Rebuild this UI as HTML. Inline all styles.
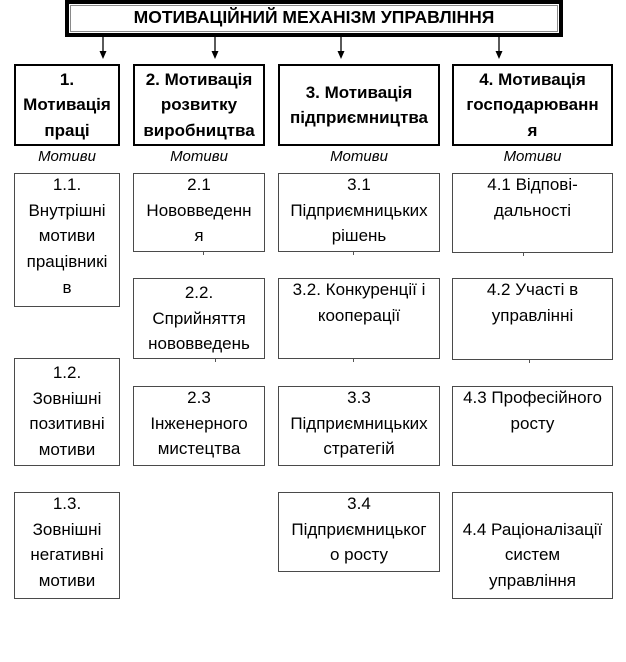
<!DOCTYPE html>
<html>
<head>
<meta charset="utf-8">
<style>
  html, body { margin:0; padding:0; background:#fff; }
  body { width:626px; height:662px; position:relative; overflow:hidden;
         font-family:"Liberation Sans", Arial, sans-serif; color:#000; }
  .title { position:absolute; left:65px; top:0; width:498px; height:37px; box-sizing:border-box;
           border:4px solid #000; background:#fff; }
  .title .inner { position:absolute; left:1px; top:1px; right:1px; bottom:1px; border:1px solid #8a8a8a; }
  .title .txt { position:absolute; left:0; right:0; top:0; line-height:27px; text-align:center;
                font-weight:bold; font-size:17.5px; white-space:nowrap; }
  .hb { position:absolute; top:64px; height:82px; box-sizing:border-box; border:2px solid #000;
        display:flex; align-items:center; justify-content:center; text-align:center;
        font-weight:bold; font-size:17px; line-height:25.5px; white-space:nowrap; }
  .mot { position:absolute; top:148px; font-style:italic; font-size:15px; line-height:18px;
         text-align:center; white-space:nowrap; }
  .sb { position:absolute; box-sizing:border-box; border:1px solid #4a4a4a; background:#fff;
        text-align:center; font-size:17px; line-height:25.7px; white-space:nowrap; }
  .sb .t { position:relative; top:-2px; }
  .tick { position:absolute; width:1px; height:3px; background:#555; }
  svg { position:absolute; left:0; top:0; }
</style>
</head>
<body>

<div class="title"><div class="inner"></div><div class="txt">МОТИВАЦІЙНИЙ МЕХАНІЗМ УПРАВЛІННЯ</div></div>

<svg width="626" height="662">
  <g stroke="#000" stroke-width="1.3">
    <line x1="103" y1="37" x2="103" y2="53"/>
    <line x1="215" y1="37" x2="215" y2="53"/>
    <line x1="341" y1="37" x2="341" y2="53"/>
    <line x1="499" y1="37" x2="499" y2="53"/>
  </g>
  <g fill="#000">
    <polygon points="99.5,51 106.5,51 103,59"/>
    <polygon points="211.5,51 218.5,51 215,59"/>
    <polygon points="337.5,51 344.5,51 341,59"/>
    <polygon points="495.5,51 502.5,51 499,59"/>
  </g>
</svg>

<div class="hb" style="left:14px;width:106px;"><div>1.<br>Мотивація<br>праці</div></div>
<div class="hb" style="left:133px;width:132px;"><div>2. Мотивація<br>розвитку<br>виробництва</div></div>
<div class="hb" style="left:278px;width:162px;"><div>3. Мотивація<br>підприємництва</div></div>
<div class="hb" style="left:452px;width:161px;"><div>4. Мотивація<br>господарюванн<br>я</div></div>

<div class="mot" style="left:14px;width:106px;">Мотиви</div>
<div class="mot" style="left:133px;width:132px;">Мотиви</div>
<div class="mot" style="left:278px;width:162px;">Мотиви</div>
<div class="mot" style="left:452px;width:161px;">Мотиви</div>

<!-- column 1 -->
<div class="sb" style="left:14px;top:173px;width:106px;height:134px;"><div class="t">1.1.<br>Внутрішні<br>мотиви<br>працівникі<br>в</div></div>
<div class="sb" style="left:14px;top:358px;width:106px;height:108px;"><div class="t" style="top:1px;">1.2.<br>Зовнішні<br>позитивні<br>мотиви</div></div>
<div class="sb" style="left:14px;top:492px;width:106px;height:107px;"><div class="t">1.3.<br>Зовнішні<br>негативні<br>мотиви</div></div>

<!-- column 2 -->
<div class="sb" style="left:133px;top:173px;width:132px;height:79px;"><div class="t">2.1<br>Нововведенн<br>я</div></div>
<div class="sb" style="left:133px;top:278px;width:132px;height:81px;"><div class="t" style="top:1px;">2.2.<br>Сприйняття<br>нововведень</div></div>
<div class="sb" style="left:133px;top:386px;width:132px;height:80px;"><div class="t">2.3<br>Інженерного<br>мистецтва</div></div>

<!-- column 3 -->
<div class="sb" style="left:278px;top:173px;width:162px;height:79px;"><div class="t">3.1<br>Підприємницьких<br>рішень</div></div>
<div class="sb" style="left:278px;top:278px;width:162px;height:81px;"><div class="t">3.2. Конкуренції і<br>кооперації</div></div>
<div class="sb" style="left:278px;top:386px;width:162px;height:80px;"><div class="t">3.3<br>Підприємницьких<br>стратегій</div></div>
<div class="sb" style="left:278px;top:492px;width:162px;height:80px;"><div class="t">3.4<br>Підприємницьког<br>о росту</div></div>

<!-- column 4 -->
<div class="sb" style="left:452px;top:173px;width:161px;height:80px;"><div class="t">4.1 Відпові-<br>дальності</div></div>
<div class="sb" style="left:452px;top:278px;width:161px;height:82px;"><div class="t">4.2 Участі в<br>управлінні</div></div>
<div class="sb" style="left:452px;top:386px;width:161px;height:80px;"><div class="t">4.3 Професійного<br>росту</div></div>
<div class="sb" style="left:452px;top:492px;width:161px;height:107px;"><div class="t">&nbsp;<br>4.4 Раціоналізації<br>систем<br>управління</div></div>

<!-- small ticks -->
<div class="tick" style="left:203px;top:252px;"></div>
<div class="tick" style="left:215px;top:359px;"></div>
<div class="tick" style="left:353px;top:252px;"></div>
<div class="tick" style="left:353px;top:359px;"></div>
<div class="tick" style="left:523px;top:253px;"></div>
<div class="tick" style="left:529px;top:360px;"></div>

</body>
</html>
